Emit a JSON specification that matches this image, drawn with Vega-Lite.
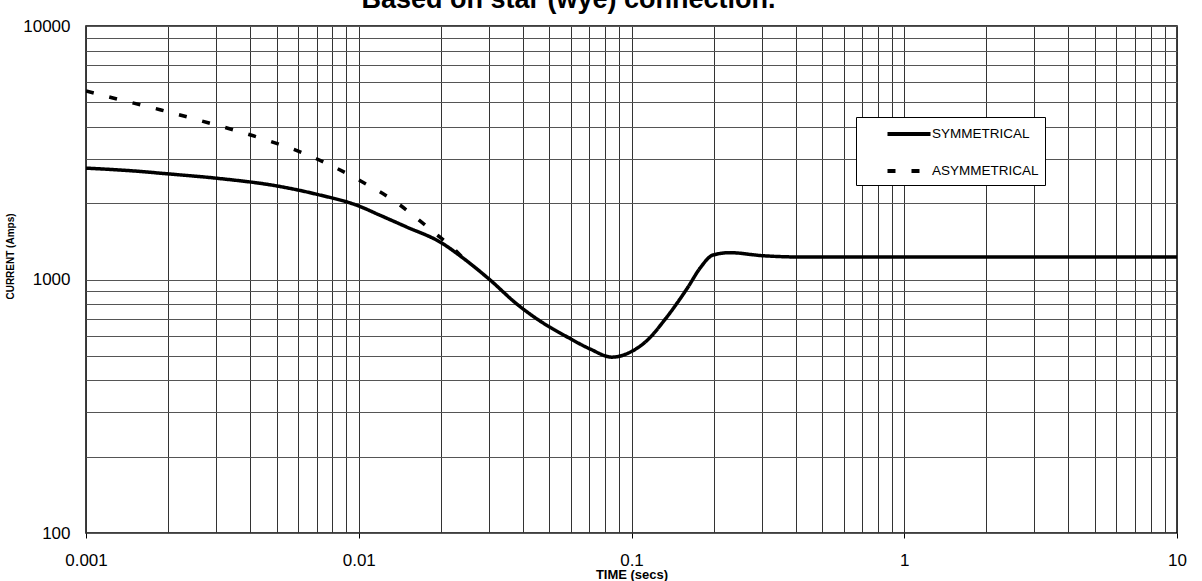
{
  "$schema": "https://vega.github.io/schema/vega-lite/v6.json",
  "autosize": {"type": "none"},
  "width": 1091,
  "height": 507,
  "padding": {"left": 86, "top": 26, "right": 25, "bottom": 48},
  "background": "white",
  "title": {
    "text": "Based on star (wye) connection.",
    "font": "Liberation Sans",
    "fontSize": 27,
    "fontWeight": "bold",
    "color": "black",
    "anchor": "middle",
    "frame": "group",
    "dx": -63,
    "offset": -18,
    "baseline": "alphabetic"
  },
  "config": {
    "view": {"stroke": "black", "strokeWidth": 1.5},
    "font": "Liberation Sans"
  },
  "data": {
    "values": [
      {"series": "SYMMETRICAL", "t": 0.001, "amps": 2750},
      {"series": "SYMMETRICAL", "t": 0.0015, "amps": 2680},
      {"series": "SYMMETRICAL", "t": 0.002, "amps": 2610},
      {"series": "SYMMETRICAL", "t": 0.003, "amps": 2510},
      {"series": "SYMMETRICAL", "t": 0.005, "amps": 2340},
      {"series": "SYMMETRICAL", "t": 0.007, "amps": 2170},
      {"series": "SYMMETRICAL", "t": 0.01, "amps": 1950},
      {"series": "SYMMETRICAL", "t": 0.012, "amps": 1790},
      {"series": "SYMMETRICAL", "t": 0.015, "amps": 1610},
      {"series": "SYMMETRICAL", "t": 0.02, "amps": 1400},
      {"series": "SYMMETRICAL", "t": 0.0241, "amps": 1216},
      {"series": "SYMMETRICAL", "t": 0.0303, "amps": 996},
      {"series": "SYMMETRICAL", "t": 0.038, "amps": 800},
      {"series": "SYMMETRICAL", "t": 0.0462, "amps": 686},
      {"series": "SYMMETRICAL", "t": 0.058, "amps": 594},
      {"series": "SYMMETRICAL", "t": 0.0705, "amps": 532},
      {"series": "SYMMETRICAL", "t": 0.0848, "amps": 494},
      {"series": "SYMMETRICAL", "t": 0.1, "amps": 520},
      {"series": "SYMMETRICAL", "t": 0.1169, "amps": 590},
      {"series": "SYMMETRICAL", "t": 0.1305, "amps": 680},
      {"series": "SYMMETRICAL", "t": 0.1612, "amps": 934},
      {"series": "SYMMETRICAL", "t": 0.1785, "amps": 1110},
      {"series": "SYMMETRICAL", "t": 0.199, "amps": 1249},
      {"series": "SYMMETRICAL", "t": 0.2297, "amps": 1276},
      {"series": "SYMMETRICAL", "t": 0.3009, "amps": 1242},
      {"series": "SYMMETRICAL", "t": 0.4147, "amps": 1227},
      {"series": "SYMMETRICAL", "t": 1, "amps": 1227},
      {"series": "SYMMETRICAL", "t": 10, "amps": 1227},
      {"series": "ASYMMETRICAL", "t": 0.001, "amps": 5540},
      {"series": "ASYMMETRICAL", "t": 0.001256, "amps": 5200},
      {"series": "ASYMMETRICAL", "t": 0.001884, "amps": 4664},
      {"series": "ASYMMETRICAL", "t": 0.002825, "amps": 4144},
      {"series": "ASYMMETRICAL", "t": 0.004236, "amps": 3649},
      {"series": "ASYMMETRICAL", "t": 0.006248, "amps": 3155},
      {"series": "ASYMMETRICAL", "t": 0.01, "amps": 2470},
      {"series": "ASYMMETRICAL", "t": 0.01416, "amps": 1967},
      {"series": "ASYMMETRICAL", "t": 0.01677, "amps": 1702},
      {"series": "ASYMMETRICAL", "t": 0.0192, "amps": 1511},
      {"series": "ASYMMETRICAL", "t": 0.02198, "amps": 1343},
      {"series": "ASYMMETRICAL", "t": 0.0241, "amps": 1216}
    ]
  },
  "mark": {"type": "line", "interpolate": "monotone", "strokeWidth": 3.5, "clip": true},
  "encoding": {
    "x": {
      "field": "t",
      "type": "quantitative",
      "scale": {"type": "log", "domain": [0.001, 10], "nice": false},
      "axis": {
        "title": "TIME (secs)",
        "titleFont": "Liberation Sans",
        "titleFontSize": 13,
        "titleFontWeight": "bold",
        "titleColor": "black",
        "titleBaseline": "alphabetic",
        "titleY": 45,
        "values": [0.001,0.002,0.003,0.004,0.005,0.006,0.007,0.008,0.009,0.01,0.02,0.03,0.04,0.05,0.06,0.07,0.08,0.09,0.1,0.2,0.3,0.4,0.5,0.6,0.7,0.8,0.9,1,2,3,4,5,6,7,8,9,10],
        "format": "~g",
        "labelExpr": "abs(log(datum.value)/LN10 - round(log(datum.value)/LN10)) < 0.001 ? datum.label : ''",
        "labelFont": "Liberation Sans",
        "labelFontSize": 17,
        "labelColor": "black",
        "labelFlush": false,
        "labelOverlap": false,
        "labelPadding": 14,
        "tickSize": 5,
        "tickColor": "black",
        "tickOpacity": {"condition": {"test": "abs(log(datum.value)/LN10 - round(log(datum.value)/LN10)) < 0.001", "value": 1}, "value": 0},
        "domain": false,
        "grid": true,
        "gridColor": "#333333",
        "gridOpacity": 1,
        "gridWidth": 1
      }
    },
    "y": {
      "field": "amps",
      "type": "quantitative",
      "scale": {"type": "log", "domain": [100, 10000], "nice": false},
      "axis": {
        "title": "CURRENT (Amps)",
        "titleFont": "Liberation Sans",
        "titleFontSize": 10,
        "titleFontWeight": "bold",
        "titleColor": "black",
        "titleX": -71,
        "titleY": 230,
        "values": [100,200,300,400,500,600,700,800,900,1000,2000,3000,4000,5000,6000,7000,8000,9000,10000],
        "format": "~g",
        "labelExpr": "abs(log(datum.value)/LN10 - round(log(datum.value)/LN10)) < 0.001 ? datum.label : ''",
        "labelFont": "Liberation Sans",
        "labelFontSize": 17,
        "labelColor": "black",
        "labelFlush": false,
        "labelOverlap": false,
        "labelPadding": 16,
        "ticks": false,
        "domain": false,
        "grid": true,
        "gridColor": "#555555",
        "gridOpacity": 1,
        "gridWidth": 1
      }
    },
    "color": {
      "field": "series",
      "type": "nominal",
      "scale": {"domain": ["SYMMETRICAL", "ASYMMETRICAL"], "range": ["black", "black"]},
      "legend": {
        "title": null,
        "orient": "none",
        "legendX": 770,
        "legendY": 91,
        "fillColor": "white",
        "strokeColor": "black",
        "padding": 6,
        "symbolType": "M-2.5,0H2.5",
        "symbolSize": 296,
        "symbolStrokeWidth": 4,
        "symbolOffset": 36,
        "labelOffset": 12,
        "rowPadding": 18,
        "labelFont": "Liberation Sans",
        "labelFontSize": 13.5,
        "labelColor": "black",
        "labelExpr": "datum.label + '\u00a0\u00a0\u00a0\u00a0\u00a0\u00a0\u00a0\u00a0\u00a0\u00a0\u00a0'"
      }
    },
    "strokeDash": {
      "field": "series",
      "type": "nominal",
      "scale": {"domain": ["SYMMETRICAL", "ASYMMETRICAL"], "range": [[1, 0], [8, 16]]},
      "legend": null
    },
    "order": {"field": "series", "sort": "ascending"}
  }
}
